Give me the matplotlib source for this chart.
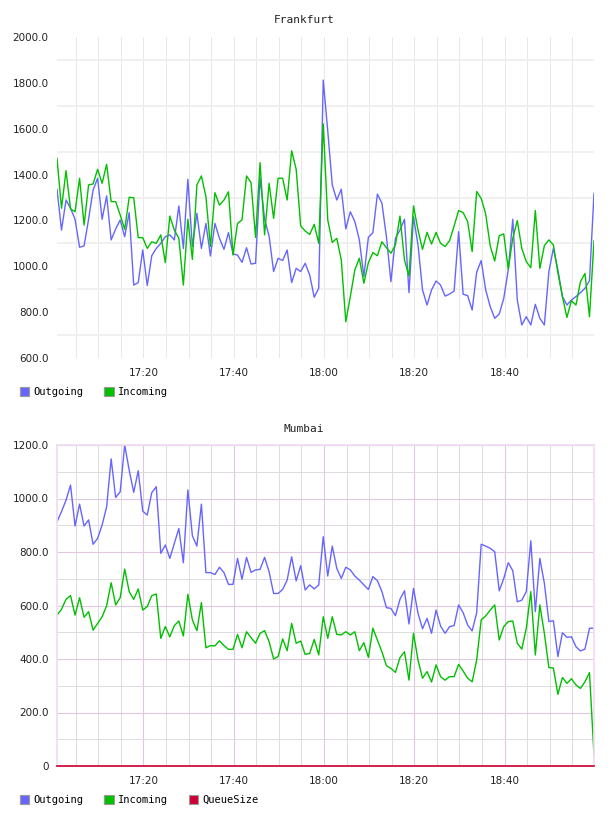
import matplotlib
matplotlib.use("Agg")
import matplotlib.pyplot as plt
import matplotlib.dates as mdates
from matplotlib.patches import Patch
from matplotlib.ticker import FuncFormatter, MultipleLocator, FixedLocator
import pandas as pd

# minute samples, 17:00:50 -> 18:59:50
start = "2013-05-14 17:00:50"

fra_out = [1336, 1158, 1289, 1253, 1205, 1083, 1089, 1205, 1333, 1384,
           1205, 1307, 1115, 1163, 1202, 1129, 1234, 918, 929, 1071,
           916, 1046, 1078, 1100, 1129, 1137, 1115, 1263, 1078, 1379,
           1086, 1231, 1078, 1187, 1045, 1187, 1122, 1074, 1147, 1054,
           1049, 1017, 1081, 1010, 1013, 1386, 1205, 1132, 977, 1035,
           1025, 1071, 929, 991, 977, 1013, 962, 865, 904, 1812,
           1590, 1355, 1289, 1336, 1163, 1238, 1195, 1115, 955, 1126,
           1147, 1315, 1275, 1129, 933, 1122, 1158, 1205, 885, 1216,
           1093, 897, 831, 897, 936, 918, 870, 879, 892, 1151,
           878, 872, 809, 974, 1025, 897, 824, 773, 792, 860,
           984, 1205, 853, 744, 780, 744, 834, 773, 744, 977,
           1078, 984, 868, 831, 853, 868, 885, 904, 937, 1318]
fra_in = [1471, 1253, 1417, 1250, 1238, 1384, 1180, 1355, 1359, 1423,
          1362, 1445, 1282, 1282, 1224, 1161, 1301, 1299, 1125, 1125,
          1078, 1107, 1100, 1137, 1016, 1219, 1158, 1122, 918, 1205,
          1030, 1355, 1394, 1304, 1086, 1321, 1267, 1289, 1325, 1049,
          1187, 1202, 1394, 1365, 1126, 1452, 1137, 1362, 1209, 1384,
          1384, 1289, 1504, 1423, 1176, 1154, 1139, 1183, 1100, 1621,
          1202, 1104, 1122, 1027, 758, 868, 984, 1035, 926, 1016,
          1060, 1046, 1107, 1081, 1057, 1093, 1219, 1027, 958, 1263,
          1158, 1074, 1148, 1097, 1148, 1100, 1086, 1112, 1176, 1243,
          1234, 1195, 1064, 1326, 1296, 1228, 1089, 1023, 1134, 1141,
          987, 1122, 1199, 1078, 1020, 994, 1243, 991, 1090, 1115,
          1093, 972, 868, 777, 850, 831, 933, 969, 780, 1112]

mum_out = [913, 951, 994, 1050, 897, 979, 897, 920, 829, 851,
           901, 969, 1148, 1004, 1025, 1200, 1106, 1023, 1104, 953,
           938, 1022, 1044, 795, 826, 776, 832, 888, 760, 1032,
           861, 822, 979, 723, 723, 716, 743, 723, 679, 679,
           776, 698, 780, 724, 733, 735, 780, 726, 645, 645,
           660, 695, 782, 692, 749, 658, 677, 662, 677, 857,
           710, 822, 739, 701, 743, 733, 710, 695, 677, 660,
           708, 693, 652, 592, 589, 562, 623, 655, 531, 664,
           571, 513, 552, 496, 583, 523, 496, 521, 525, 602,
           573, 527, 505, 573, 829, 822, 814, 801, 655, 701,
           760, 730, 614, 620, 652, 842, 577, 776, 683, 540,
           543, 409, 498, 481, 483, 446, 430, 437, 515, 515]
mum_in = [564, 586, 623, 637, 564, 629, 556, 577, 508, 533,
          558, 599, 685, 602, 629, 736, 652, 623, 662, 583,
          596, 637, 643, 477, 521, 483, 525, 542, 486, 642,
          546, 506, 611, 442, 450, 449, 468, 450, 436, 436,
          492, 442, 502, 480, 459, 496, 506, 465, 400, 409,
          475, 431, 533, 459, 467, 417, 421, 473, 415, 558,
          477, 558, 492, 490, 502, 490, 502, 431, 461, 406,
          515, 471, 427, 375, 365, 350, 405, 427, 321, 496,
          396, 328, 353, 314, 378, 334, 321, 334, 334, 380,
          355, 328, 315, 396, 546, 561, 583, 602, 471, 521,
          540, 542, 459, 437, 515, 652, 415, 602, 496, 368,
          366, 268, 331, 309, 326, 303, 290, 315, 349, 41]
mum_queue = [0] * len(mum_in)

BLUE = "#6666ff"
GREEN = "#00c000"
RED = "#cc0033"

times = pd.date_range(start, periods=len(fra_out), freq="1min")

W, H = 608, 816
fig = plt.figure(figsize=(W / 100, H / 100), dpi=100)
ax1 = fig.add_axes([57 / W, 1 - 358 / H, 537 / W, 321 / H])
ax2 = fig.add_axes([57 / W, 1 - 766 / H, 537 / W, 321 / H])

mono = "DejaVu Sans Mono"


def time_axis(ax):
    ax.xaxis.set_major_locator(mdates.MinuteLocator(byminute=[0, 20, 40]))
    ax.xaxis.set_minor_locator(mdates.MinuteLocator(byminute=range(0, 60, 5)))
    ax.xaxis.set_major_formatter(mdates.DateFormatter("%H:%M"))
    ax.set_xlim(times[0], times[-1])
    ax.tick_params(which="both", length=0, labelsize=7.5, colors="#222222")
    ax.tick_params(axis="x", pad=7)
    ax.tick_params(axis="y", pad=6)
    ax.set_axisbelow(True)


# Frankfurt
ax1.plot(times, fra_out, color=BLUE, lw=1.0)
ax1.plot(times, fra_in, color=GREEN, lw=1.0)
ax1.set_ylim(600, 2000)
ax1.yaxis.set_major_locator(MultipleLocator(200))
ax1.yaxis.set_minor_locator(FixedLocator(range(700, 2000, 200)))
ax1.yaxis.set_major_formatter(FuncFormatter(lambda v, p: f"{v:.1f}"))
time_axis(ax1)
ax1.grid(False)
ax1.grid(which="minor", axis="y", color="#efefef", lw=1.3)
ax1.grid(which="both", axis="x", color="#e8e8e8", lw=0.7)
for s in ax1.spines.values():
    s.set_visible(False)

# Mumbai
ax2.plot(times, mum_out, color=BLUE, lw=1.0)
ax2.plot(times, mum_in, color=GREEN, lw=1.0)
ax2.plot(times, mum_queue, color=RED, lw=1.2, clip_on=False, zorder=4)
ax2.set_ylim(0, 1200)
ax2.yaxis.set_major_locator(MultipleLocator(200))
ax2.yaxis.set_minor_locator(MultipleLocator(100))
ax2.yaxis.set_major_formatter(FuncFormatter(lambda v, p: "0" if v == 0 else f"{v:.1f}"))
time_axis(ax2)
ax2.grid(which="minor", color="#dcdcdc", lw=0.7)
ax2.grid(which="major", color="#e0c8e0", lw=0.8)
for s in ax2.spines.values():
    s.set_color("#f0dcf0")
    s.set_linewidth(1.2)

for lab in ax1.get_xticklabels() + ax1.get_yticklabels() + ax2.get_xticklabels() + ax2.get_yticklabels():
    lab.set_family("DejaVu Sans")

fig.text(0.5, 1 - 20 / H, "Frankfurt", ha="center", va="center", fontsize=8, family=mono, color="#222222")
fig.text(0.5, 1 - 429 / H, "Mumbai", ha="center", va="center", fontsize=8, family=mono, color="#222222")


def legend(labels, colors, y):
    handles = [Patch(facecolor=c, edgecolor="#999999", lw=0.8) for c in colors]
    fig.legend(handles, labels, loc="center left", bbox_to_anchor=(20 / W, 1 - y / H),
               ncol=len(labels), frameon=False, handlelength=0.9, handleheight=0.9,
               handletextpad=0.4, columnspacing=2.0, borderaxespad=0, borderpad=0,
               prop={"family": mono, "size": 7.5})


legend(["Outgoing", "Incoming"], [BLUE, GREEN], 392)
legend(["Outgoing", "Incoming", "QueueSize"], [BLUE, GREEN, RED], 800)

fig.savefig("out.png", dpi=100)
